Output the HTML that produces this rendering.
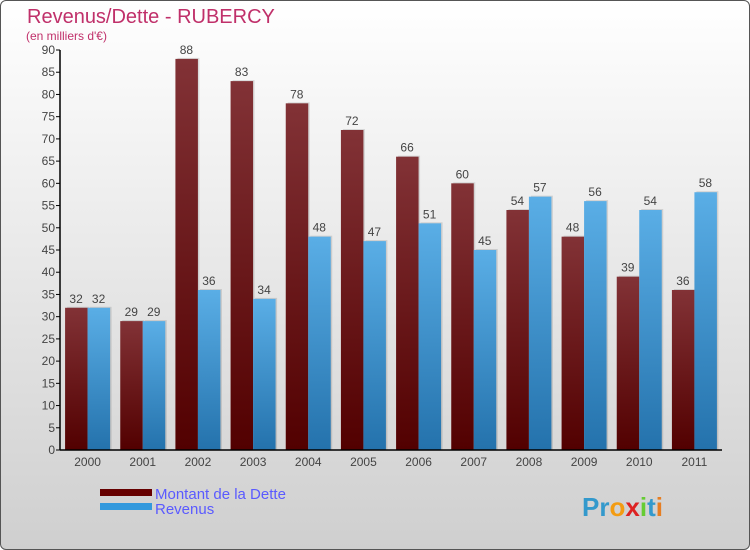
<!DOCTYPE html>
<html><head><meta charset="utf-8"><style>
body{margin:0;width:750px;height:550px;overflow:hidden;font-family:"Liberation Sans",sans-serif}
#wrap{position:absolute;left:0;top:0;width:748px;height:548px;border:1px solid #555;border-radius:6px;background:linear-gradient(#ffffff,#cfcfcf)}
</style></head><body>
<div id="wrap">
<svg width="750" height="550" id="chart" style="position:absolute;left:-1px;top:-1px">
<defs>
<linearGradient id="gd" x1="0" y1="0" x2="0" y2="1"><stop offset="0" stop-color="#823236"/><stop offset="1" stop-color="#520000"/></linearGradient>
<linearGradient id="gr" x1="0" y1="0" x2="0" y2="1"><stop offset="0" stop-color="#5aaee6"/><stop offset="1" stop-color="#2472ac"/></linearGradient>
</defs>
<text x="27" y="23" font-size="20" fill="#c0306a">Revenus/Dette - RUBERCY</text>
<text x="26" y="40" font-size="12" fill="#c0306a">(en milliers d'€)</text>
<g id="bars"></g>
<g id="axes"></g>
<rect x="100" y="489" width="52" height="7" fill="#660000"/>
<rect x="100" y="503" width="52" height="7" fill="#3399dd"/>
<text x="155" y="499" font-size="15" fill="#5a5aff">Montant de la Dette</text>
<text x="155" y="514" font-size="15" fill="#5a5aff">Revenus</text>
<text x="582" y="516" font-size="26" font-weight="bold" fill="#3399cc">Pr<tspan fill="#f39c12">o</tspan><tspan fill="#d22">x</tspan><tspan fill="#6c3">i</tspan><tspan fill="#3399cc">t</tspan><tspan fill="#e67e22">i</tspan></text>
</svg></div>
<script>
const years=["2000","2001","2002","2003","2004","2005","2006","2007","2008","2009","2010","2011"];
const dette=[32,29,88,83,78,72,66,60,54,48,39,36];
const revenus=[32,29,36,34,48,47,51,45,57,56,54,58];
const yTicks=[0,5,10,15,20,25,30,35,40,45,50,55,60,65,70,75,80,85,90];
const NS="http://www.w3.org/2000/svg";
const x0=60,x1=722,y0=450,y1=50,yMax=90;
const band=(x1-x0)/years.length;
const y=v=>y0-(v/yMax)*(y0-y1);
const cx=i=>x0+band*(i+0.5);
function mk(t,a,p){const e=document.createElementNS(NS,t);for(const k in a)e.setAttribute(k,a[k]);p.appendChild(e);return e;}
const gb=document.getElementById('bars'),ga=document.getElementById('axes');
years.forEach((yr,i)=>{
 const c=cx(i);
 [[dette[i],c-22.5,'url(#gd)','bar-dette-'+yr],[revenus[i],c,'url(#gr)','bar-revenus-'+yr]].forEach(([v,x,f,n])=>{
  const sh=mk('rect',{x:x+2,y:y(v)-1,width:22,height:y0-y(v)+1,fill:'rgba(0,0,0,0.12)'},gb);
  const r=mk('rect',{x:x,y:y(v),width:22.5,height:y0-y(v),fill:f},gb);
  
  
  const t=mk('text',{x:x+11,y:y(v)-5,'text-anchor':'middle','font-size':12,fill:'#444'},gb);
  t.textContent=v;
  
  
 });
 const t=mk('text',{x:c,y:466,'text-anchor':'middle','font-size':12,fill:'#444'},ga);
 t.textContent=yr;
 
 
});
mk('line',{x1:x0,y1:y0,x2:x1,y2:y0,stroke:'#000','stroke-width':1.5},ga);
mk('line',{x1:x0,y1:y0,x2:x0,y2:y1,stroke:'#000','stroke-width':1.5},ga);
yTicks.forEach(v=>{
 mk('line',{x1:x0-4,y1:y(v),x2:x0,y2:y(v),stroke:'#000'},ga);
 const t=mk('text',{x:x0-5,y:y(v)+4,'text-anchor':'end','font-size':12,fill:'#444'},ga);
 t.textContent=v;
 
 
});
</script>
</body></html>
